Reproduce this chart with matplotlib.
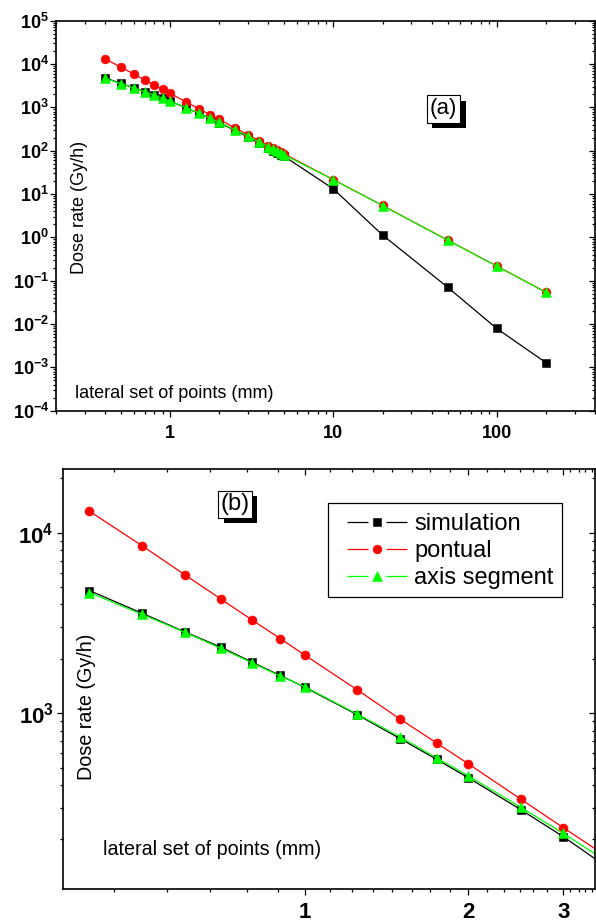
import matplotlib
matplotlib.use('Agg')
import matplotlib.pyplot as plt
import numpy as np
from matplotlib.ticker import LogLocator, FixedLocator, NullFormatter
from matplotlib.lines import Line2D
from matplotlib.patches import Rectangle

plt.rcParams['font.family'] = ['Liberation Sans', 'DejaVu Sans']
plt.rcParams['mathtext.fontset'] = 'custom'
plt.rcParams['mathtext.rm'] = 'Liberation Sans'
plt.rcParams['mathtext.bf'] = 'Liberation Sans:bold'
plt.rcParams['mathtext.it'] = 'Liberation Sans:italic'

# ---------------- data ----------------
distance = [0.4, 0.5, 0.6, 0.7, 0.8, 0.9, 1.0, 1.25, 1.5, 1.75, 2.0, 2.5, 3.0,
            3.5, 4.0, 4.25, 4.5, 4.75, 5.0, 10, 20, 50, 100, 200]
simulation = [4775, 3580, 2820, 2318, 1913, 1618, 1390, 979, 722, 555, 440, 293, 207,
              150, 113, 100, 88, 80, 74, 13.1, 1.13, 0.071, 0.0079, 0.00129]
pontual = [13130, 8470, 5840, 4280, 3270, 2590, 2095, 1344, 926, 684, 526, 335, 232,
           171, 131, 116, 103, 93, 84, 21.5, 5.45, 0.87, 0.218, 0.0545]
axis_segment = [4650, 3530, 2805, 2287, 1896, 1606, 1400, 987, 738, 565, 451, 302, 216,
                160, 124, 110, 98, 88, 80, 21.4, 5.4, 0.86, 0.216, 0.054]

series_labels = ['simulation', 'pontual', 'axis segment']
series_values = [simulation, pontual, axis_segment]

xticks_a = [1, 10, 100]
xticklabels_a = ['1', '10', '100']
yexp_a = list(range(-4, 6))
xticks_b = [1, 2, 3]
xticklabels_b = ['1', '2', '3']
yexp_b = [3, 4]
xminor_b = [0.445, 0.556, 0.667, 0.78, 0.89, 1.112, 1.221, 1.335, 1.447, 1.575,
            1.70, 1.852, 2.17, 2.33, 2.49, 2.64, 2.80, 3.09, 3.2, 3.29, 3.39]

xlabel = 'lateral set of points (mm)'
ylabel = 'Dose rate (Gy/h)'

# ---------------- style ----------------
colors = ['black', 'red', '#00ff00']
markers = ['s', 'o', '^']

W, H = 596, 922
fig = plt.figure(figsize=(W / 100, H / 100), dpi=100)


def rect(l, t, r, b):
    return [l / W, 1 - b / H, (r - l) / W, (b - t) / H]


def make_axes(r):
    ax = fig.add_axes(r)
    ax.set_xscale('log')
    ax.set_yscale('log')
    axo = fig.add_axes(r, sharex=ax, sharey=ax)
    axo.patch.set_visible(False)
    for s in axo.spines.values():
        s.set_visible(False)
    for s in ax.spines.values():
        s.set_linewidth(1.2)
    ax.tick_params(which='both', direction='out', top=False, right=False, width=0.9)
    ax.tick_params(which='major', length=4)
    ax.tick_params(which='minor', length=2.3)
    axo.tick_params(which='both', direction='in', top=True, right=True, bottom=False,
                    left=False, labelbottom=False, labelleft=False, width=0.9)
    axo.tick_params(which='major', length=4)
    axo.tick_params(which='minor', length=2.3)
    return ax, axo


def plot_series(ax, sizes):
    for vals, lab, c, m, ms in zip(series_values, series_labels, colors, markers, sizes):
        ax.plot(distance, vals, color=c, lw=0.9, marker=m, ms=ms, mfc=c, mec=c,
                mew=0.4, label=lab)


boxes = []


def boxed_label(ax, x, y, s, fs, pad):
    t = ax.text(x, y, s, transform=ax.transAxes, ha='center', va='center', fontsize=fs,
                bbox=dict(boxstyle='square,pad=%g' % pad, fc='white', ec='black', lw=0.8),
                zorder=6)
    boxes.append((ax, t))


# ---------------- panel (a) ----------------
axa, axao = make_axes(rect(56, 20.7, 595, 410.7))
plot_series(axa, [5.3, 6.3, 7.0])
axa.set_xlim(0.2, 400)
axa.set_ylim(1e-4, 1e5)
axa.set_xticks(xticks_a, labels=xticklabels_a, fontsize=13, fontweight='bold')
axa.set_yticks([10.0 ** e for e in yexp_a],
               labels=[r'$\mathbf{10^{%d}}$' % e for e in yexp_a], fontsize=13)
axa.xaxis.set_minor_locator(LogLocator(base=10, subs=np.arange(2, 10), numticks=30))
axa.yaxis.set_minor_locator(LogLocator(base=10, subs=np.arange(2, 10), numticks=30))
axa.xaxis.set_minor_formatter(NullFormatter())
axa.yaxis.set_minor_formatter(NullFormatter())
axa.tick_params(axis='x', pad=6)
axa.tick_params(axis='y', pad=1)
axa.text(0.0445, 0.522, ylabel, rotation=90, transform=axa.transAxes,
         ha='center', va='center', fontsize=13)
axa.text(0.035, 0.043, xlabel, transform=axa.transAxes, ha='left', va='center',
         fontsize=13)
boxed_label(axa, 0.719, 0.7736, '(a)', 16, 0.14)

# ---------------- panel (b) ----------------
axb, axbo = make_axes(rect(63.3, 469.3, 595, 889.3))
plot_series(axb, [5.4, 6.5, 7.2])
axb.set_xlim(0.358, 3.43)
axb.set_ylim(106, 22400)
axb.set_xticks(xticks_b, labels=xticklabels_b, fontsize=16, fontweight='bold')
axb.set_yticks([10.0 ** e for e in yexp_b],
               labels=[r'$\mathbf{10^{%d}}$' % e for e in yexp_b], fontsize=16)
axb.xaxis.set_minor_locator(FixedLocator(xminor_b))
axb.yaxis.set_minor_locator(LogLocator(base=10, subs=np.arange(2, 10), numticks=30))
axb.xaxis.set_minor_formatter(NullFormatter())
axb.yaxis.set_minor_formatter(NullFormatter())
axb.tick_params(axis='x', pad=5.5)
axb.tick_params(axis='y', pad=3)
axb.text(0.043, 0.434, ylabel, rotation=90, transform=axb.transAxes,
         ha='center', va='center', fontsize=14.2)
axb.text(0.0747, 0.0936, xlabel, transform=axb.transAxes, ha='left', va='center',
         fontsize=14.2)
boxed_label(axb, 0.323, 0.917, '(b)', 17, 0.1)

# legend: Origin-style handles (line, gap, marker, gap, line) in a plain box
axb.add_patch(Rectangle((0.4978, 0.696), 0.938 - 0.4978, 0.9198 - 0.696,
                        transform=axb.transAxes, fc='white', ec='black', lw=0.9,
                        zorder=6.5))
handles = [Line2D([], [], color=c, lw=0.9, marker=m, ms=ms, mfc=c, mec=c, mew=0.4,
                  ls=(0, (16.8, 14.4, 16.8, 100)))
           for c, m, ms in zip(colors, markers, [5.4, 6.3, 6.8])]
leg = axb.legend(handles, series_labels, loc='upper left', bbox_to_anchor=(0.5336, 0.896),
                 fontsize=17, frameon=False, handlelength=2.54, labelspacing=0.21,
                 handletextpad=0.3, borderpad=0, borderaxespad=0)
leg.set_zorder(7)

# drop shadows behind the panel labels
fig.canvas.draw()
renderer = fig.canvas.get_renderer()
for ax, t in boxes:
    bb = t.get_bbox_patch().get_window_extent(renderer)
    inv = ax.transAxes.inverted()
    (x0, y0) = inv.transform((bb.x0 + 5.5, bb.y0 - 5.5))
    (x1, y1) = inv.transform((bb.x1 + 5.5, bb.y1 - 5.5))
    ax.add_patch(Rectangle((x0, y0), x1 - x0, y1 - y0, transform=ax.transAxes,
                           fc='black', ec='none', zorder=5))

fig.savefig('out.png', dpi=100)
